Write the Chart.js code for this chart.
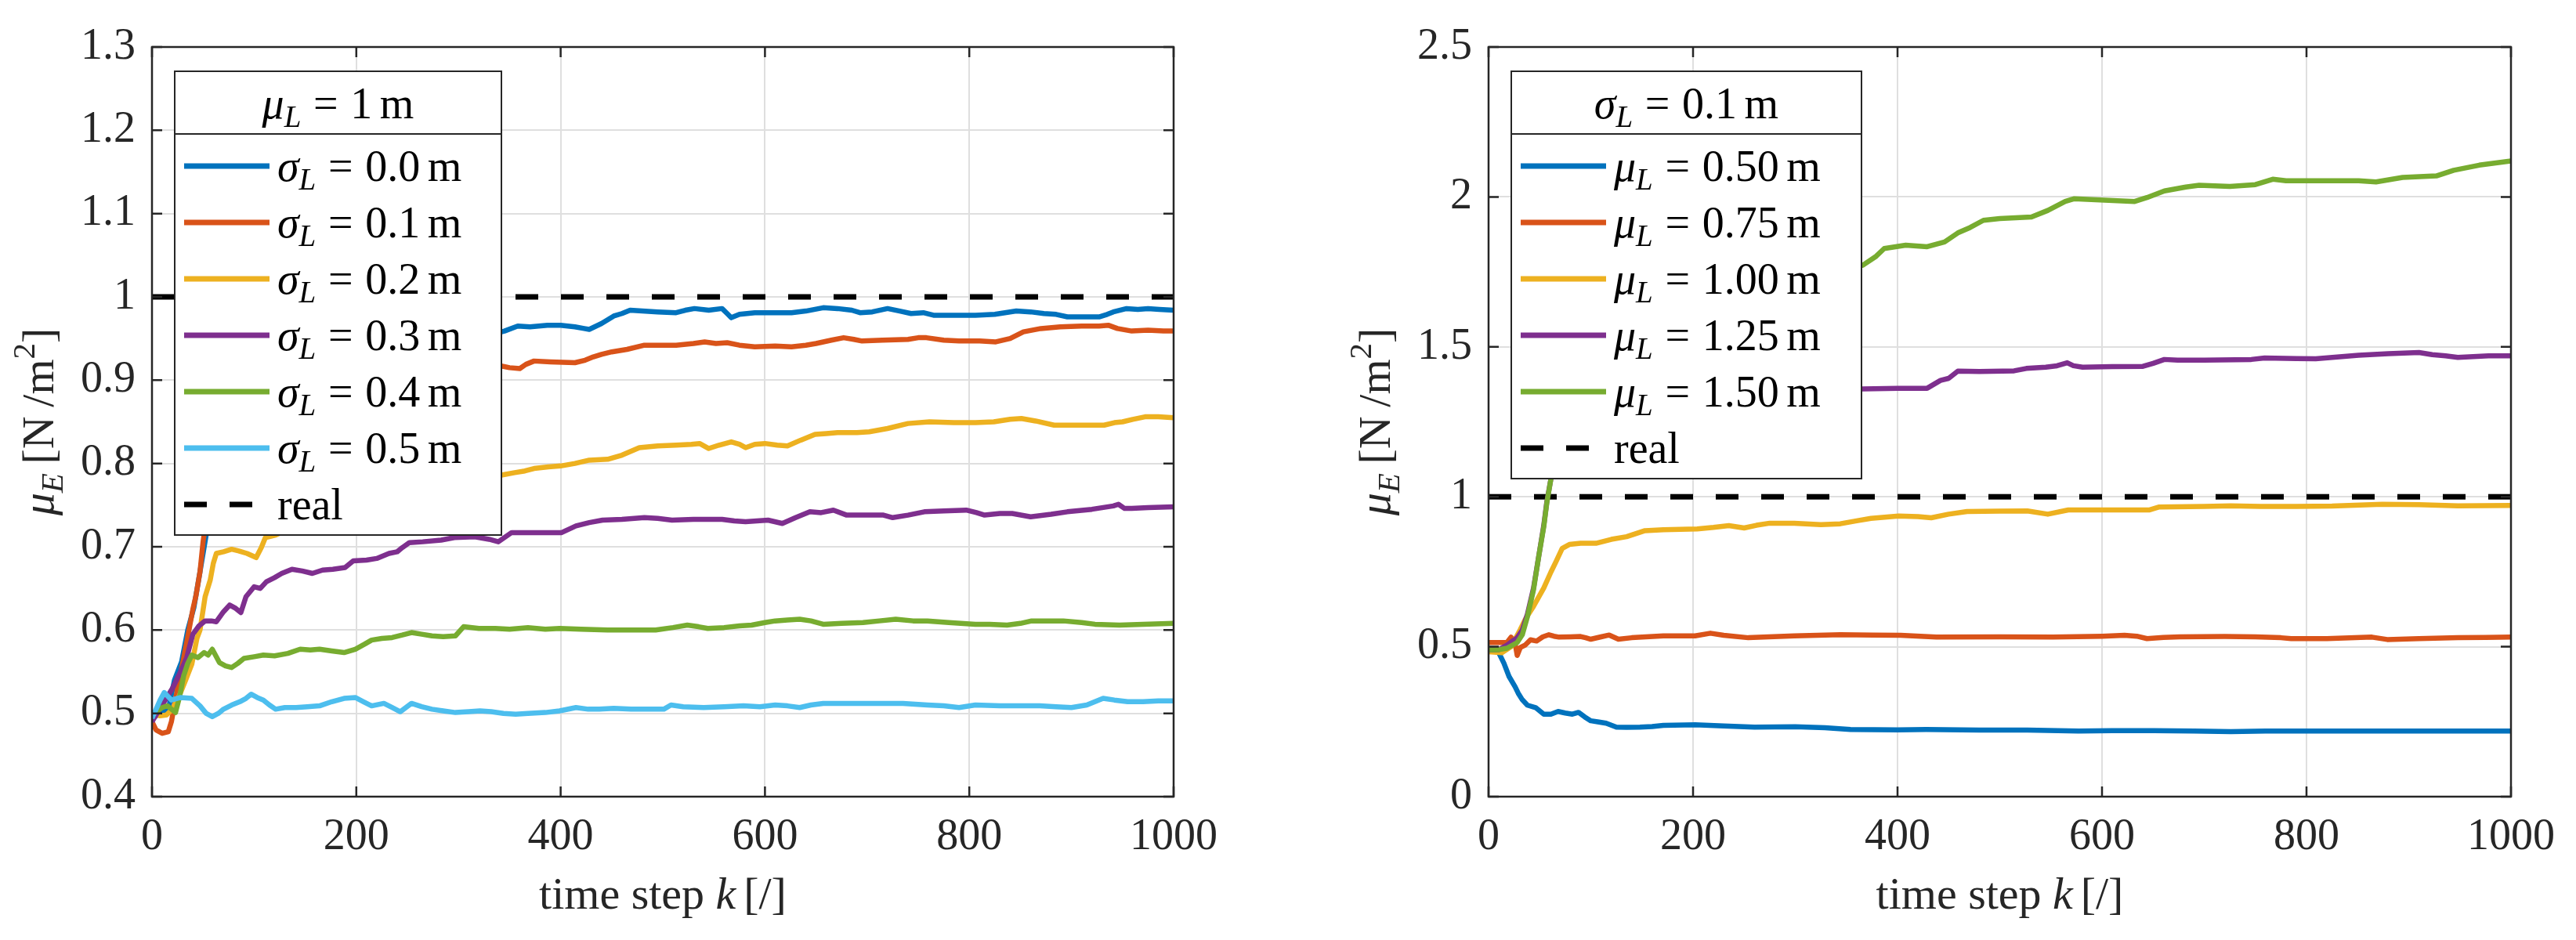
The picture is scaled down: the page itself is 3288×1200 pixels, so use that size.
<!DOCTYPE html>
<html>
<head>
<meta charset="utf-8">
<title>mu_E estimates</title>
<script src="https://cdn.jsdelivr.net/npm/chart.js@4.4.1/dist/chart.umd.min.js"></script>
<style>
  html, body { margin: 0; padding: 0; background: #fff; }
  #wrap { position: relative; width: 3288px; height: 1200px; background: #fff; }
  .panel { position: absolute; top: 0; width: 1644px; height: 1200px; }
</style>
</head>
<body>
<div id="wrap">
  <div class="panel" style="left:0"><canvas id="left-chart"></canvas></div>
  <div class="panel" style="left:1644px"><canvas id="right-chart"></canvas></div>
</div>
<script>
// ---- data: [time step k, mu_E] ----
const xTicks = [0, 200, 400, 600, 800, 1000];
const leftYTicks = [0.4, 0.5, 0.6, 0.7, 0.8, 0.9, 1, 1.1, 1.2, 1.3];
const rightYTicks = [0, 0.5, 1, 1.5, 2, 2.5];
const sigmaLabels = ['0.0', '0.1', '0.2', '0.3', '0.4', '0.5'];
const muLabels = ['0.50', '0.75', '1.00', '1.25', '1.50'];
const realLine = [[0, 1], [1000, 1]];

// left panel, mu_L = 1 m
const sigma00 = [[0,0.494],[8,0.50],[16,0.505],[22,0.54],[29,0.562],[35,0.60],[41,0.627],[47,0.67],[53,0.714],[60,0.77],[70,0.82],[85,0.86],[110,0.89],[150,0.91],[200,0.925],[250,0.94],[300,0.95],[333,0.955],[345,0.959],[358,0.965],[370,0.964],[387,0.966],[400,0.966],[414,0.964],[423,0.962],[428,0.961],[440,0.968],[452,0.977],[460,0.980],[468,0.984],[480,0.983],[495,0.982],[513,0.981],[522,0.984],[531,0.986],[545,0.984],[558,0.986],[563,0.980],[567,0.975],[575,0.979],[590,0.981],[610,0.981],[626,0.981],[640,0.983],[657,0.987],[671,0.986],[685,0.984],[693,0.981],[705,0.982],[720,0.986],[732,0.983],[743,0.980],[755,0.981],[765,0.978],[790,0.978],[806,0.978],[825,0.979],[846,0.983],[860,0.982],[873,0.980],[885,0.979],[896,0.976],[915,0.976],[927,0.976],[935,0.979],[941,0.982],[954,0.986],[965,0.985],[975,0.986],[986,0.985],[1000,0.984]];
const sigma01 = [[0,0.49],[4,0.48],[10,0.476],[16,0.478],[19,0.49],[25,0.53],[30,0.56],[35,0.592],[40,0.625],[43,0.641],[47,0.67],[50,0.706],[55,0.75],[65,0.80],[80,0.84],[110,0.87],[150,0.885],[200,0.895],[250,0.905],[300,0.912],[342,0.917],[350,0.915],[360,0.914],[366,0.919],[374,0.923],[390,0.922],[414,0.921],[424,0.924],[432,0.928],[440,0.931],[450,0.934],[465,0.937],[482,0.942],[500,0.942],[513,0.942],[530,0.944],[541,0.946],[552,0.944],[563,0.945],[575,0.942],[590,0.940],[610,0.941],[626,0.940],[640,0.942],[650,0.944],[665,0.948],[677,0.951],[687,0.949],[695,0.947],[715,0.948],[740,0.949],[750,0.951],[758,0.951],[775,0.948],[790,0.947],[810,0.947],[826,0.946],[840,0.950],[853,0.958],[870,0.962],[889,0.964],[910,0.965],[927,0.965],[936,0.966],[945,0.962],[959,0.959],[975,0.960],[990,0.959],[1000,0.959]];
const sigma02 = [[0,0.50],[8,0.497],[14,0.498],[20,0.505],[26,0.519],[33,0.54],[39,0.559],[44,0.59],[47,0.60],[52,0.64],[57,0.66],[60,0.68],[63,0.692],[70,0.694],[78,0.697],[85,0.695],[93,0.692],[102,0.687],[107,0.699],[111,0.711],[121,0.714],[150,0.73],[200,0.755],[250,0.77],[300,0.78],[342,0.786],[355,0.789],[365,0.791],[374,0.794],[388,0.796],[400,0.797],[414,0.800],[428,0.804],[446,0.805],[460,0.810],[477,0.819],[495,0.821],[513,0.822],[528,0.823],[536,0.824],[545,0.818],[555,0.822],[567,0.826],[575,0.823],[581,0.819],[590,0.823],[600,0.824],[612,0.822],[622,0.821],[635,0.828],[649,0.835],[660,0.836],[671,0.837],[690,0.837],[702,0.838],[720,0.842],[740,0.848],[761,0.850],[785,0.849],[806,0.849],[824,0.850],[840,0.853],[851,0.854],[865,0.851],[883,0.846],[910,0.846],[932,0.846],[942,0.849],[950,0.850],[960,0.853],[972,0.856],[985,0.856],[1000,0.855]];
const sigma03 = [[0,0.49],[10,0.51],[20,0.53],[28,0.55],[34,0.567],[40,0.595],[46,0.605],[52,0.611],[58,0.611],[63,0.610],[70,0.622],[76,0.630],[82,0.626],[87,0.621],[92,0.640],[100,0.652],[106,0.650],[112,0.658],[120,0.663],[127,0.668],[137,0.673],[147,0.671],[157,0.668],[167,0.672],[177,0.673],[189,0.675],[197,0.683],[210,0.684],[220,0.686],[232,0.692],[240,0.694],[245,0.699],[252,0.705],[265,0.706],[283,0.708],[296,0.711],[316,0.712],[330,0.709],[339,0.706],[352,0.717],[365,0.717],[380,0.717],[401,0.717],[415,0.725],[428,0.729],[441,0.732],[460,0.733],[482,0.735],[495,0.734],[509,0.732],[530,0.733],[558,0.733],[570,0.731],[581,0.730],[603,0.732],[617,0.728],[630,0.735],[644,0.742],[655,0.741],[667,0.744],[680,0.738],[700,0.738],[716,0.738],[725,0.735],[740,0.738],[756,0.742],[775,0.743],[797,0.744],[807,0.741],[815,0.738],[830,0.740],[842,0.740],[860,0.736],[880,0.739],[896,0.742],[920,0.745],[941,0.749],[946,0.751],[952,0.746],[959,0.746],[975,0.747],[1000,0.748]];
const sigma04 = [[0,0.50],[3,0.501],[10,0.507],[15,0.509],[23,0.501],[27,0.52],[31,0.545],[35,0.56],[39,0.570],[45,0.567],[51,0.573],[55,0.570],[59,0.577],[66,0.561],[72,0.557],[78,0.555],[84,0.560],[90,0.566],[100,0.568],[109,0.570],[120,0.569],[133,0.572],[145,0.577],[155,0.576],[164,0.577],[176,0.575],[188,0.573],[199,0.577],[208,0.583],[215,0.588],[225,0.590],[235,0.591],[245,0.594],[254,0.597],[264,0.595],[274,0.593],[285,0.592],[297,0.593],[305,0.604],[320,0.602],[336,0.602],[350,0.601],[368,0.603],[385,0.601],[399,0.602],[420,0.601],[446,0.600],[470,0.600],[493,0.600],[510,0.603],[524,0.606],[535,0.604],[544,0.602],[560,0.603],[575,0.605],[587,0.606],[600,0.609],[610,0.611],[622,0.612],[634,0.613],[645,0.611],[657,0.607],[675,0.608],[696,0.609],[712,0.611],[728,0.613],[745,0.611],[759,0.611],[780,0.609],[806,0.607],[820,0.607],[837,0.606],[850,0.608],[861,0.611],[875,0.611],[892,0.611],[910,0.609],[923,0.607],[947,0.606],[970,0.607],[1000,0.608]];
const sigma05 = [[0,0.494],[4,0.505],[8,0.516],[12,0.525],[19,0.516],[28,0.519],[39,0.518],[47,0.509],[53,0.500],[59,0.496],[65,0.500],[70,0.505],[78,0.510],[86,0.514],[92,0.518],[97,0.523],[103,0.519],[109,0.516],[115,0.510],[121,0.505],[130,0.507],[141,0.507],[152,0.508],[164,0.509],[176,0.514],[188,0.518],[199,0.519],[207,0.514],[215,0.509],[227,0.512],[235,0.507],[243,0.502],[254,0.512],[264,0.508],[274,0.505],[285,0.503],[297,0.501],[310,0.502],[321,0.503],[332,0.502],[344,0.500],[356,0.499],[368,0.500],[385,0.501],[399,0.503],[415,0.507],[427,0.505],[438,0.505],[452,0.506],[469,0.505],[485,0.505],[501,0.505],[508,0.510],[520,0.508],[540,0.507],[560,0.508],[579,0.509],[595,0.508],[610,0.510],[622,0.509],[634,0.507],[645,0.510],[657,0.512],[680,0.512],[712,0.512],[735,0.512],[759,0.510],[775,0.509],[790,0.507],[806,0.510],[830,0.509],[850,0.509],[869,0.509],[885,0.508],[900,0.507],[915,0.510],[931,0.518],[942,0.516],[955,0.514],[970,0.514],[985,0.515],[1000,0.515]];

// right panel, sigma_L = 0.1 m
const mu050 = [[0,0.493],[5,0.49],[10,0.48],[15,0.445],[20,0.401],[26,0.366],[29,0.345],[33,0.323],[38,0.305],[46,0.297],[54,0.275],[61,0.275],[68,0.284],[75,0.279],[82,0.275],[88,0.281],[94,0.266],[100,0.253],[108,0.249],[115,0.245],[125,0.232],[135,0.231],[148,0.232],[160,0.234],[171,0.238],[202,0.240],[230,0.236],[260,0.232],[300,0.233],[329,0.230],[354,0.224],[400,0.223],[428,0.224],[480,0.222],[527,0.222],[577,0.219],[610,0.220],[651,0.220],[690,0.219],[726,0.217],[760,0.219],[825,0.219],[870,0.219],[920,0.219],[960,0.219],[1000,0.219]];
const mu075 = [[0,0.514],[10,0.514],[18,0.514],[22,0.532],[26,0.51],[28,0.471],[31,0.497],[36,0.506],[41,0.523],[47,0.519],[53,0.533],[59,0.540],[64,0.535],[69,0.532],[80,0.533],[90,0.534],[95,0.530],[100,0.525],[110,0.533],[118,0.539],[127,0.525],[140,0.530],[171,0.536],[202,0.536],[217,0.545],[230,0.538],[254,0.530],[299,0.536],[344,0.540],[376,0.539],[403,0.538],[438,0.532],[500,0.533],[552,0.532],[600,0.535],[622,0.538],[634,0.535],[644,0.527],[660,0.531],[676,0.533],[720,0.534],[750,0.533],[775,0.530],[785,0.527],[820,0.527],[864,0.532],[879,0.524],[910,0.527],[948,0.530],[975,0.531],[1000,0.532]];
const mu100 = [[0,0.483],[13,0.48],[22,0.50],[31,0.557],[36,0.592],[44,0.635],[54,0.696],[61,0.749],[66,0.784],[72,0.828],[79,0.841],[90,0.845],[105,0.845],[120,0.858],[135,0.867],[153,0.887],[171,0.890],[204,0.893],[220,0.898],[235,0.904],[250,0.896],[262,0.905],[275,0.912],[299,0.912],[325,0.907],[344,0.910],[360,0.920],[374,0.928],[401,0.936],[420,0.934],[433,0.930],[450,0.942],[468,0.951],[500,0.952],[527,0.953],[547,0.942],[567,0.956],[600,0.956],[646,0.956],[656,0.966],[700,0.968],[726,0.970],[755,0.968],[790,0.968],[825,0.969],[874,0.975],[910,0.974],[948,0.970],[1000,0.971]];
const mu125 = [[0,0.49],[10,0.49],[18,0.505],[24,0.52],[28,0.53],[33,0.556],[38,0.609],[44,0.696],[49,0.800],[54,0.905],[57,0.984],[61,1.06],[65,1.13],[70,1.2],[80,1.26],[100,1.30],[150,1.32],[250,1.34],[340,1.358],[366,1.360],[400,1.362],[429,1.362],[442,1.388],[450,1.395],[459,1.419],[480,1.418],[514,1.420],[526,1.428],[545,1.432],[556,1.437],[566,1.447],[572,1.437],[581,1.432],[610,1.434],[640,1.435],[650,1.445],[661,1.458],[674,1.456],[700,1.456],[746,1.458],[759,1.463],[790,1.461],[809,1.460],[851,1.472],[880,1.477],[910,1.481],[923,1.474],[936,1.470],[948,1.465],[978,1.470],[1000,1.470]];
const mu150 = [[0,0.49],[10,0.49],[18,0.495],[28,0.514],[33,0.54],[38,0.60],[44,0.69],[49,0.80],[54,0.90],[57,0.98],[61,1.06],[65,1.13],[70,1.22],[80,1.32],[100,1.45],[150,1.60],[250,1.70],[340,1.75],[366,1.772],[379,1.802],[387,1.828],[408,1.839],[429,1.834],[446,1.850],[459,1.880],[471,1.898],[484,1.922],[500,1.928],[531,1.933],[547,1.955],[564,1.985],[573,1.994],[598,1.990],[632,1.985],[644,1.998],[661,2.020],[682,2.033],[695,2.039],[725,2.035],[750,2.041],[767,2.059],[780,2.054],[809,2.054],[851,2.054],[868,2.050],[894,2.065],[927,2.070],[944,2.089],[969,2.106],[1000,2.120]];

const matlabColors = ['#0072BD', '#D95319', '#EDB120', '#7E2F8E', '#77AC30', '#4DBEEE'];

// ---- styling ----
const FONT = '"Liberation Serif", "Times New Roman", serif';
const TICK_SIZE = 56;
const TITLE_SIZE = 58;
const LEGEND_SIZE = 56;
const AXIS_COLOR = '#262626';

// rich text: parts {t, it, sub, sup} or {g: gap in em}
function partFont(p, size) {
    const s = (p.sub || p.sup) ? Math.round(size * 0.7) : size;
    return (p.it ? 'italic ' : '') + s + 'px ' + FONT;
}
function richWidth(ctx, parts, size) {
    let w = 0;
    parts.forEach(p => {
        if (p.g) { w += p.g * size; return; }
        ctx.font = partFont(p, size);
        w += ctx.measureText(p.t).width;
    });
    return w;
}
function drawRich(ctx, parts, x, y, size) {
    let cx = x;
    ctx.textAlign = 'left';
    ctx.textBaseline = 'alphabetic';
    parts.forEach(p => {
        if (p.g) { cx += p.g * size; return; }
        ctx.font = partFont(p, size);
        const dy = p.sub ? 0.2 * size : (p.sup ? -0.42 * size : 0);
        ctx.fillText(p.t, cx, y + dy);
        cx += ctx.measureText(p.t).width;
    });
}
function mathEq(sym, value) {
    return [{t: sym, it: true}, {t: 'L', it: true, sub: true}, {g: 0.28}, {t: '='}, {g: 0.28},
        {t: value}, {g: 0.17}, {t: 'm'}];
}

const yTitle = [{t: 'μ', it: true}, {t: 'E', it: true, sub: true}, {g: 0.2}, {t: '[N\u2009/m'}, {t: '2', sup: true}, {t: ']'}];
const xTitle = [{t: 'time step '}, {t: 'k', it: true}, {g: 0.17}, {t: '[/]'}];

const framePlugin = {
    id: 'frame',
    afterDatasetsDraw(chart, args, opts) {
        const {ctx, chartArea: a, scales: {x, y}} = chart;
        ctx.save();
        // box and inward ticks
        ctx.strokeStyle = AXIS_COLOR;
        ctx.lineWidth = 2.5;
        ctx.strokeRect(a.left, a.top, a.right - a.left, a.bottom - a.top);
        ctx.beginPath();
        x.ticks.forEach(t => {
            const px = x.getPixelForValue(t.value);
            ctx.moveTo(px, a.bottom); ctx.lineTo(px, a.bottom - 13);
            ctx.moveTo(px, a.top); ctx.lineTo(px, a.top + 13);
        });
        y.ticks.forEach(t => {
            const py = y.getPixelForValue(t.value);
            ctx.moveTo(a.left, py); ctx.lineTo(a.left + 13, py);
            ctx.moveTo(a.right, py); ctx.lineTo(a.right - 13, py);
        });
        ctx.stroke();

        // axis titles
        ctx.fillStyle = AXIS_COLOR;
        const xw = richWidth(ctx, xTitle, TITLE_SIZE);
        drawRich(ctx, xTitle, (a.left + a.right) / 2 - xw / 2, a.bottom + 143, TITLE_SIZE);
        ctx.save();
        ctx.translate(a.left - 126, (a.top + a.bottom) / 2);
        ctx.rotate(-Math.PI / 2);
        const yw = richWidth(ctx, yTitle, TITLE_SIZE);
        drawRich(ctx, yTitle, -yw / 2, 0, TITLE_SIZE);
        ctx.restore();

        // legend
        const items = opts.items;
        const bx = a.left + 29, by = a.top + 31;
        let need = 0;
        items.forEach(it => { need = Math.max(need, richWidth(ctx, it.parts, LEGEND_SIZE)); });
        const bw = Math.max(opts.width, 131 + need + 14);
        const bh = 80 + items.length * 72 + 8;
        ctx.fillStyle = '#fff';
        ctx.fillRect(bx, by, bw, bh);
        ctx.strokeStyle = AXIS_COLOR;
        ctx.lineWidth = 2;
        ctx.strokeRect(bx, by, bw, bh);
        ctx.beginPath();
        ctx.moveTo(bx, by + 80); ctx.lineTo(bx + bw, by + 80);
        ctx.stroke();
        ctx.fillStyle = '#000';
        const tw = richWidth(ctx, opts.title, LEGEND_SIZE);
        drawRich(ctx, opts.title, bx + bw / 2 - tw / 2, by + 60, LEGEND_SIZE);
        items.forEach((it, i) => {
            const cy = by + 121 + i * 72;
            ctx.beginPath();
            ctx.strokeStyle = it.color;
            ctx.lineWidth = 7;
            ctx.lineCap = 'butt';
            ctx.setLineDash(it.dash ? [29, 29] : []);
            ctx.moveTo(bx + 12, cy); ctx.lineTo(bx + 121, cy);
            ctx.stroke();
            ctx.setLineDash([]);
            ctx.fillStyle = '#000';
            drawRich(ctx, it.parts, bx + 131, cy + 19, LEGEND_SIZE);
        });
        ctx.restore();
    }
};

function series(points, color, idx) {
    return {
        data: points.map(([k, v]) => ({x: k, y: v})),
        borderColor: color,
        borderWidth: 6.5,
        pointRadius: 0,
        tension: 0,
        borderJoinStyle: 'round',
        order: -idx
    };
}
function realSeries() {
    return {
        data: realLine.map(([k, v]) => ({x: k, y: v})),
        borderColor: '#000',
        borderWidth: 7,
        borderDash: [29, 29],
        borderCapStyle: 'butt',
        pointRadius: 0,
        order: 10
    };
}

function makeChart(id, cfg) {
    const tickFont = {family: FONT, size: TICK_SIZE};
    return new Chart(id, {
        type: 'line',
        data: {datasets: cfg.datasets},
        options: {
            responsive: true,
            maintainAspectRatio: false,
            devicePixelRatio: 1,
            animation: false,
            layout: {padding: {left: 0, top: 60, right: cfg.padRight, bottom: 0}},
            plugins: {
                legend: {display: false},
                tooltip: {enabled: false},
                frame: {title: cfg.legendTitle, items: cfg.legendItems, width: cfg.legendWidth}
            },
            scales: {
                x: {
                    type: 'linear', min: 0, max: 1000,
                    afterBuildTicks: s => { s.ticks = xTicks.map(v => ({value: v})); },
                    afterFit: s => { s.height = 183; s.paddingLeft = 0; s.paddingRight = 0; },
                    ticks: {font: tickFont, color: AXIS_COLOR, padding: 19, maxRotation: 0, callback: v => String(v)},
                    grid: {color: '#dfdfdf', lineWidth: 2, drawTicks: false},
                    border: {display: false}
                },
                y: {
                    type: 'linear', min: cfg.yMin, max: cfg.yMax,
                    afterBuildTicks: s => { s.ticks = cfg.yTicks.map(v => ({value: v})); },
                    afterFit: s => { s.width = cfg.yWidth; s.paddingTop = 0; s.paddingBottom = 0; },
                    ticks: {font: tickFont, color: AXIS_COLOR, padding: 21, callback: v => String(v)},
                    grid: {color: '#dfdfdf', lineWidth: 2, drawTicks: false},
                    border: {display: false}
                }
            }
        },
        plugins: [framePlugin]
    });
}

const leftSeries = [sigma00, sigma01, sigma02, sigma03, sigma04, sigma05];
const rightSeries = [mu050, mu075, mu100, mu125, mu150];

makeChart('left-chart', {
    datasets: leftSeries.map((s, i) => series(s, matlabColors[i], i)).concat([realSeries()]),
    yMin: 0.4, yMax: 1.3, yTicks: leftYTicks, yWidth: 194, padRight: 146,
    legendTitle: mathEq('μ', '1'),
    legendItems: sigmaLabels.map((l, i) => ({parts: mathEq('σ', l), color: matlabColors[i]}))
        .concat([{parts: [{t: 'real'}], color: '#000', dash: true}]),
    legendWidth: 417
});

makeChart('right-chart', {
    datasets: rightSeries.map((s, i) => series(s, matlabColors[i], i)).concat([realSeries()]),
    yMin: 0, yMax: 2.5, yTicks: rightYTicks, yWidth: 256, padRight: 83,
    legendTitle: mathEq('σ', '0.1'),
    legendItems: muLabels.map((l, i) => ({parts: mathEq('μ', l), color: matlabColors[i]}))
        .concat([{parts: [{t: 'real'}], color: '#000', dash: true}]),
    legendWidth: 447
});
</script>
</body>
</html>
